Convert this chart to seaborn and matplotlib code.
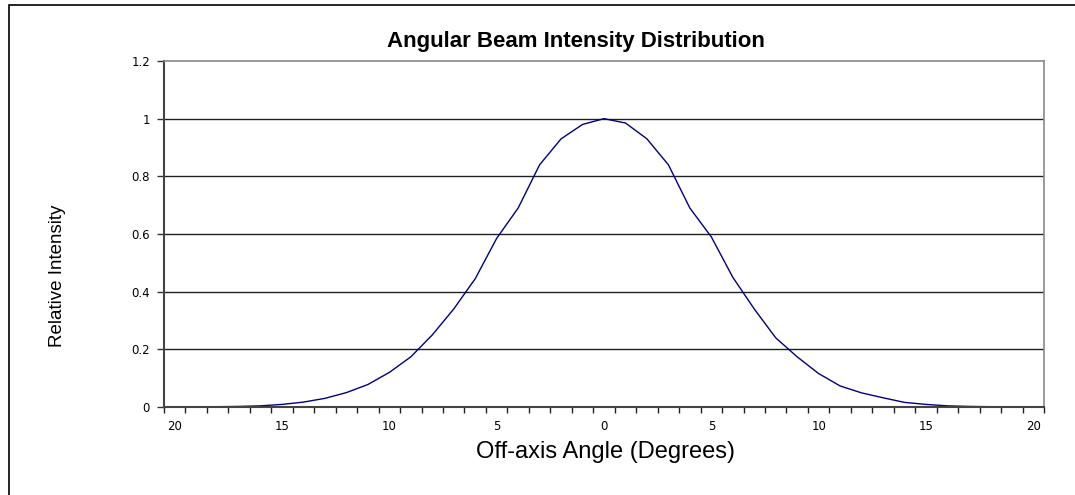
import numpy as np
import pandas as pd
import matplotlib
matplotlib.use("Agg")
import matplotlib.pyplot as plt
import seaborn as sns
from matplotlib.patches import Rectangle

# Off-axis angle in degrees (negative = left side of the beam)
angles = list(range(-20, 21))
# Relative intensity
intensity = [0.0, 0.0005, 0.001, 0.002, 0.004, 0.009, 0.017, 0.03, 0.05, 0.078,
             0.12, 0.174, 0.25, 0.34, 0.445, 0.585, 0.69, 0.84, 0.93, 0.98,
             1.0,
             0.985, 0.93, 0.84, 0.69, 0.59, 0.45, 0.34, 0.24, 0.174, 0.116,
             0.073, 0.049, 0.032, 0.016, 0.009, 0.004, 0.002, 0.001, 0.0005, 0.0]

tick_angles = [-20, -15, -10, -5, 0, 5, 10, 15, 20]
y_ticks = [0, 0.2, 0.4, 0.6, 0.8, 1.0, 1.2]
y_labels = ["0", "0.2", "0.4", "0.6", "0.8", "1", "1.2"]

df = pd.DataFrame({"angle": angles, "intensity": intensity})

sns.set_theme(style="white")
plt.rcParams["font.family"] = ["Liberation Sans", "DejaVu Sans"]
plt.rcParams["text.color"] = "black"

W, H = 1075, 495
fig = plt.figure(figsize=(W / 100, H / 100), dpi=100)
ax = fig.add_axes([164 / W, 1 - 407 / H, 880 / W, 346 / H])

# outer chart border (runs off the right/bottom edge like the original)
fig.patches.append(Rectangle((9 / W, -0.1), 1.2, 1 - 5 / H + 0.1,
                             transform=fig.transFigure, fill=False,
                             edgecolor="black", linewidth=1.2, zorder=0))

sns.lineplot(data=df, x="angle", y="intensity", ax=ax, color="#000080", linewidth=1.0)

ax.set_xlim(-20.5, 20.5)
ax.set_ylim(0, 1.2)

ax.set_yticks(y_ticks)
ax.set_yticklabels(y_labels, family="DejaVu Sans", color="black")
for yv in y_ticks[1:-1]:
    ax.axhline(yv, color="#202020", linewidth=1.0, zorder=0)

ax.set_xticks(tick_angles)
ax.set_xticklabels([str(abs(a)) for a in tick_angles], family="DejaVu Sans", color="black")
ax.set_xticks(np.arange(-20.5, 21, 1), minor=True)
ax.tick_params(axis="x", which="major", length=0, pad=9, labelsize=8.5)
ax.tick_params(axis="x", which="minor", length=4, width=1, color="#222222", direction="out")
ax.tick_params(axis="y", which="major", length=5, width=1, color="#333333", direction="out",
               pad=5, labelsize=8.5)
ax.xaxis.set_ticks_position("bottom")
ax.yaxis.set_ticks_position("left")

for side in ["left", "bottom"]:
    ax.spines[side].set_color("#444444")
    ax.spines[side].set_linewidth(1.5)
for side in ["top", "right"]:
    ax.spines[side].set_color("#888888")
    ax.spines[side].set_linewidth(1.2)

ax.set_xlabel("")
ax.set_ylabel("")
fig.text(606 / W, 1 - 458 / H, "Off-axis Angle (Degrees)", fontsize=17,
         ha="center", va="baseline", color="black")
fig.text(58 / W, 1 - 276 / H, "Relative Intensity", fontsize=13.5, rotation=90,
         ha="center", va="center", color="black")
fig.text(576 / W, 1 - 47.5 / H, "Angular Beam Intensity Distribution", fontsize=16,
         fontweight="bold", ha="center", va="baseline", color="black")

fig.savefig("out.png", dpi=100)
